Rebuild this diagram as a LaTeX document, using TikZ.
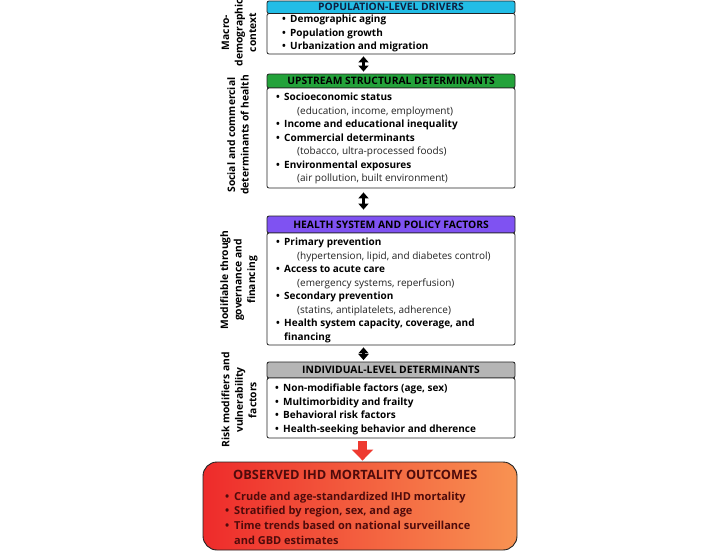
\documentclass[tikz,border=0pt]{standalone}
\usepackage{fontspec}
\setmainfont{Open Sans}
\usetikzlibrary{arrows.meta}
\definecolor{hcyan}{HTML}{22BDE6}
\definecolor{hgreen}{HTML}{23A23A}
\definecolor{hpurple}{HTML}{7F52F2}
\definecolor{hgray}{HTML}{B5B5B5}
\definecolor{bordc}{HTML}{222222}
\definecolor{subc}{HTML}{222222}
\definecolor{hnavy}{HTML}{102040}
\definecolor{outred}{HTML}{EE2B2B}
\definecolor{outorange}{HTML}{F89352}
\definecolor{outtext}{HTML}{4F0B0B}
\definecolor{arrred}{HTML}{EE3A30}
\newcommand\bitem[1]{\strut\makebox[8pt][l]{•}#1}
\newcommand\citem[1]{\strut\hspace*{8pt}#1}
\newcommand\sitem[1]{\strut\hspace*{21pt}{\mdseries\color{subc}#1}}
\newcommand\oitem[1]{\strut\makebox[9pt][l]{•}#1}
\newcommand\ocont[1]{\strut\hspace*{9pt}#1}
\begin{document}
\begin{tikzpicture}[x=1pt,y=-1pt,
  hdr/.style={draw=bordc, line width=0.8pt, rounded corners=2pt, minimum width=248pt,
    inner sep=0pt, font=\fontsize{10.3}{12}\selectfont\bfseries},
  body/.style={draw=bordc, line width=0.8pt, rounded corners=2pt, minimum width=248pt,
    fill=white, inner sep=0pt},
  btext/.style={anchor=north west, inner sep=0pt, align=left,
    font=\fontsize{10}{13.5}\selectfont\bfseries},
  sidelab/.style={rotate=90, align=center, inner sep=0pt,
    font=\fontsize{10.3}{13.5}\selectfont\bfseries},
  dblarrow/.style={line width=3pt, {Triangle[width=10pt,length=6pt]}-{Triangle[width=10pt,length=6pt]}},
  redarrow/.style={draw=arrred, line width=9pt, -{Triangle[width=21pt,length=11pt]}}
]
\useasboundingbox (0,0) rectangle (723,558);

% Box 1
\node[hdr, fill=hcyan, minimum height=12.5pt, text=hnavy] (H1) at (391,7.25) {POPULATION-LEVEL DRIVERS};
\node[body, minimum height=40.5pt] (B1) at (391,33.75) {};
\node[btext] (T1) at (282,13.05) {\bitem{Demographic aging}\\ \bitem{Population growth}\\ \bitem{Urbanization and migration}};

% Box 2
\node[hdr, fill=hgreen, minimum height=14pt] (H2) at (391,81) {UPSTREAM STRUCTURAL DETERMINANTS};
\node[body, minimum height=100pt] (B2) at (391,138) {};
\node[btext] (T2) at (276,91) {\bitem{Socioeconomic status}\\ \sitem{(education, income, employment)}\\
  \bitem{Income and educational inequality}\\ \bitem{Commercial determinants}\\
  \sitem{(tobacco, ultra-processed foods)}\\ \bitem{Environmental exposures}\\
  \sitem{(air pollution, built environment)}};

% Box 3
\node[hdr, fill=hpurple, minimum height=17pt] (H3) at (391,224.5) {HEALTH SYSTEM AND POLICY FACTORS};
\node[body, minimum height=112pt] (B3) at (391,289) {};
\node[btext] (T3) at (276,236) {\bitem{Primary prevention}\\ \sitem{(hypertension, lipid, and diabetes control)}\\
  \bitem{Access to acute care}\\ \sitem{(emergency systems, reperfusion)}\\
  \bitem{Secondary prevention}\\ \sitem{(statins, antiplatelets, adherence)}\\
  \bitem{Health system capacity, coverage, and}\\ \citem{financing}};

% Box 4
\node[hdr, fill=hgray, minimum height=16pt] (H4) at (391,370) {INDIVIDUAL-LEVEL DETERMINANTS};
\node[body, minimum height=60pt] (B4) at (391,408) {};
\node[btext] (T4) at (275,382) {\bitem{Non-modifiable factors (age, sex)}\\ \bitem{Multimorbidity and frailty}\\
  \bitem{Behavioral risk factors}\\ \bitem{Health-seeking behavior and dherence}};

% Outcome box
\node[draw=bordc, line width=0.9pt, rounded corners=14pt, minimum width=314pt, minimum height=88pt,
  left color=outred, right color=outorange, inner sep=0pt] (O) at (360,506) {};
\node[anchor=base west, inner sep=0pt, text=outtext, font=\fontsize{12.8}{15}\selectfont\bfseries] (OT) at (233,479.5) {OBSERVED IHD MORTALITY OUTCOMES};
\node[anchor=north west, inner sep=0pt, align=left, text=outtext, font=\fontsize{11}{14.7}\selectfont\bfseries] (OL) at (225,489.7)
  {\oitem{Crude and age-standardized IHD mortality}\\ \oitem{Stratified by region, sex, and age}\\
   \oitem{Time trends based on national surveillance}\\ \ocont{and GBD estimates}};

% Side labels
\node[sidelab] (L1) at (239,32.5) {Macro-\\demographic\\context};
\node[sidelab] (L2) at (238,135) {Social and commercial\\determinants of health};
\node[sidelab] (L3) at (239,280) {Modifiable through\\governance and\\financing};
\node[sidelab] (L4) at (239,400) {Risk modifiers and\\vulnerability\\factors};

% Arrows
\draw[dblarrow, shorten <=2pt, shorten >=2pt] ([xshift=-27.5pt]B1.south) -- ([xshift=-27.5pt]H2.north);
\draw[dblarrow, shorten <=4pt, shorten >=6pt] ([xshift=-27.5pt]B2.south) -- ([xshift=-27.5pt]H3.north);
\draw[dblarrow, shorten <=2pt, shorten >=1.5pt] ([xshift=-27.5pt]B3.south) -- ([xshift=-27.5pt]H4.north);
\draw[redarrow, shorten <=3pt, shorten >=1pt] ([xshift=-28.5pt]B4.south) -- ([xshift=2.5pt]O.north);
\end{tikzpicture}
\end{document}
